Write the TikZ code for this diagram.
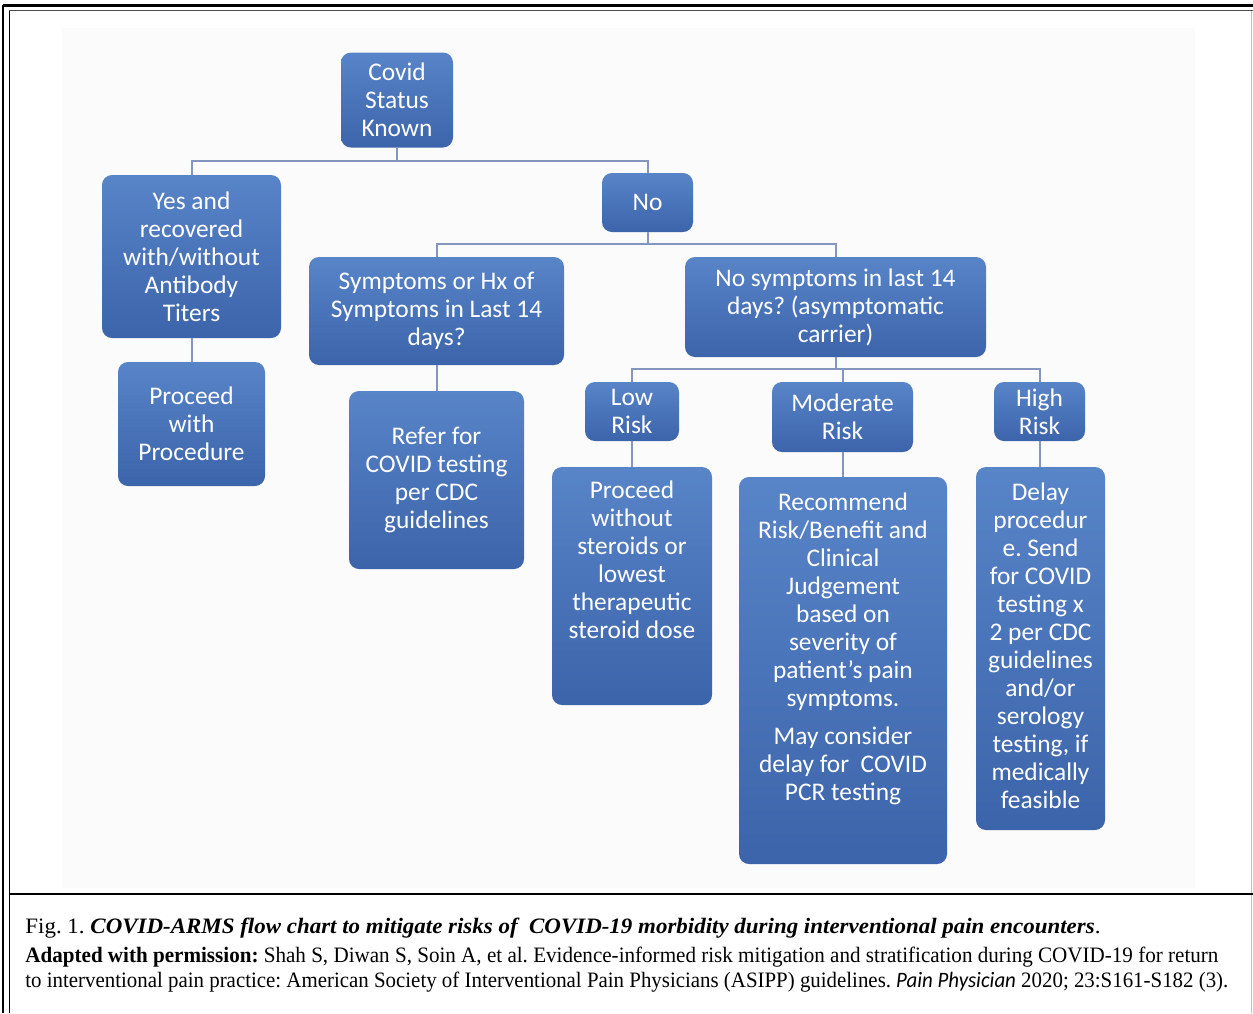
\documentclass[tikz,border=0pt]{standalone}
\usepackage{fontspec}
\usepackage{graphicx}
\setmainfont{Liberation Serif}
\newfontfamily\carl{Carlito}
\frenchspacing
\definecolor{boxtop}{RGB}{88,132,200}
\definecolor{boxbot}{RGB}{60,100,170}
\definecolor{connc}{RGB}{132,150,192}
\definecolor{bgc}{RGB}{251,251,251}
\tikzset{
  box/.style={rounded corners=5pt, top color=boxtop, bottom color=boxbot, draw=none,
    text=white, font=\carl\fontsize{12.7}{14}\selectfont, align=center, inner sep=0pt},
  conn/.style={draw=connc, line width=1pt},
  capline/.style={anchor=base west, inner sep=0pt, font=\fontsize{11}{13}\selectfont}
}
\begin{document}
\begin{tikzpicture}[x=0.5pt,y=-0.5pt]
\useasboundingbox (0,0) rectangle (1253,1013);
\fill[white] (0,0) rectangle (1253,1013);
\fill[bgc] (62,28) rectangle (1195,888);
% frame
\draw[line width=0.8pt] (3,5) -- (3,1013);
\draw[line width=1.6pt] (3,5.5) -- (1253,5.5);
\draw[line width=0.5pt] (9,10.5) -- (9,1013);
\draw[line width=0.5pt, black!70] (9,10.5) -- (1253,10.5);
\draw[line width=0.5pt, black!25] (1251,10.5) -- (1251,1013);
\draw[line width=1.2pt] (9,894) -- (1253,894);
% boxes
\node[box, minimum width=56pt, minimum height=47.5pt] (covid) at (397,100) {Covid\\Status\\Known};
\node[box, minimum width=89.5pt, minimum height=81.5pt] (yes) at (191.5,256.5) {Yes and\\recovered\\with/without\\Antibody\\Titers};
\node[box, minimum width=45.5pt, minimum height=29.5pt] (no) at (647.5,202.5) {No};
\node[box, minimum width=73.5pt, minimum height=62pt] (proc) at (191.5,424) {Proceed\\with\\Procedure};
\node[box, minimum width=127.5pt, minimum height=54pt] (sym) at (436.5,311) {Symptoms or Hx of\\Symptoms in Last 14\\days?};
\node[box, minimum width=150.5pt, minimum height=50pt] (nosym) at (835.5,307) {No symptoms in last 14\\days? (asymptomatic\\carrier)};
\node[box, minimum width=87.5pt, minimum height=89pt] (refer) at (436.5,480) {Refer for\\COVID testing\\per CDC\\guidelines};
\node[box, minimum width=47pt, minimum height=29.5pt] (low) at (632,411.5) {Low\\Risk};
\node[box, minimum width=70.5pt, minimum height=35pt] (mod) at (842.5,417) {Moderate\\Risk};
\node[box, minimum width=45.5pt, minimum height=29.5pt] (high) at (1039.5,411.5) {High\\Risk};
\node[box] (pw) at (632,586) {\parbox[c][119pt][t]{80pt}{\centering\rule{0pt}{15.5pt}Proceed\\without\\steroids or\\lowest\\therapeutic\\steroid dose}};
\node[box] (rec) at (843,670.5) {\parbox[c][193.5pt][t]{104pt}{\centering\rule{0pt}{16.5pt}Recommend\\Risk/Benefit and\\Clinical\\Judgement\\based on\\severity of\\patient’s pain\\symptoms.\\[5pt]May consider\\delay for~ COVID\\PCR testing}};
\node[box] (delay) at (1040.5,648.5) {\parbox[c][181.5pt][t]{64.5pt}{\centering\rule{0pt}{16.5pt}Delay\\procedur\\e. Send\\for COVID\\testing x\\2 per CDC\\guidelines\\and/or\\serology\\testing, if\\medically\\feasible}};
% connectors
\draw[conn] (covid.south) -- ++(0,13) -| (yes.north);
\draw[conn] (covid.south) -- ++(0,13) -| (no.north);
\draw[conn] (no.south) -- ++(0,12) -| (sym.north);
\draw[conn] (no.south) -- ++(0,12) -| (nosym.north);
\draw[conn] (nosym.south) -- ++(0,12) -| (low.north);
\draw[conn] (nosym.south) -- ++(0,12) -| (mod.north);
\draw[conn] (nosym.south) -- ++(0,12) -| (high.north);
\draw[conn] (yes.south) -- (proc.north);
\draw[conn] (sym.south) -- (refer.north);
\draw[conn] (low.south) -- (pw.north);
\draw[conn] (mod.south) -- (mod.south |- rec.north);
\draw[conn] (high.south) -- (high.south |- delay.north);
% caption
\node[capline] (cap1) at (25,933) {\resizebox{537.5pt}{\height}{Fig. 1. \textbf{\textit{COVID-ARMS flow chart to mitigate risks of~ COVID-19 morbidity during interventional pain encounters}}.}};
\node[capline] (cap2) at (25,962) {\resizebox{596.5pt}{\height}{\textbf{Adapted with permission:} Shah S, Diwan S, Soin A, et al. Evidence-informed risk mitigation and stratification during COVID-19 for return}};
\node[capline] (cap3) at (25,987) {\resizebox{601.5pt}{\height}{to interventional pain practice: American Society of Interventional Pain Physicians (ASIPP) guidelines. {\carl\itshape Pain Physician} 2020; 23:S161-S182 (3).}};
\end{tikzpicture}
\end{document}
